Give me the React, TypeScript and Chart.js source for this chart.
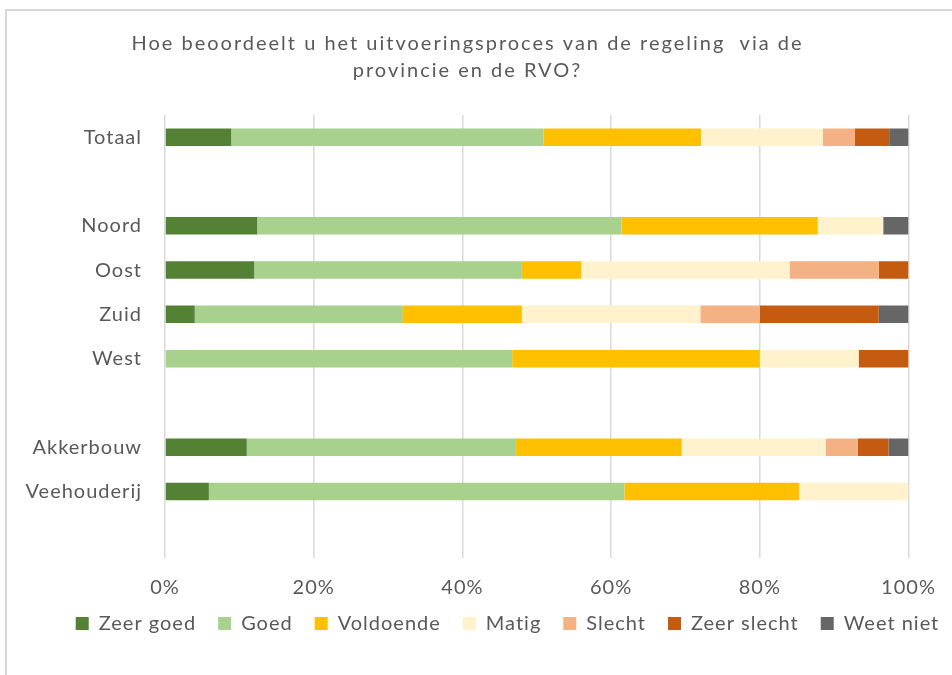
import React, { useEffect, useRef } from 'react';
import { Chart, registerables } from 'chart.js';

Chart.register(...registerables);

const categories = ['Totaal', '', 'Noord', 'Oost', 'Zuid', 'West', '', 'Akkerbouw', 'Veehouderij', ''];
const seriesNames = ['Zeer goed', 'Goed', 'Voldoende', 'Matig', 'Slecht', 'Zeer slecht', 'Weet niet'];

const zeerGoed = [8.9, null, 12.4, 12, 4, 0, null, 11.0, 5.9, null];
const goed = [42.0, null, 49.0, 36, 28, 46.7, null, 36.2, 55.9, null];
const voldoende = [21.2, null, 26.4, 8, 16, 33.3, null, 22.3, 23.5, null];
const matig = [16.4, null, 8.8, 28, 24, 13.3, null, 19.4, 14.7, null];
const slecht = [4.3, null, 0, 12, 8, 0, null, 4.3, 0, null];
const zeerSlecht = [4.6, null, 0, 4, 16, 6.7, null, 4.1, 0, null];
const weetNiet = [2.6, null, 3.4, 0, 4, 0, null, 2.7, 0, null];

const seriesColors = ['#548235', '#A9D18E', '#FFC000', '#FFF2CC', '#F4B183', '#C55A11', '#666666'];
const xTickValues = [0, 20, 40, 60, 80, 100];
const xTickLabels = ['0%', '20%', '40%', '60%', '80%', '100%'];
const titleLines = ['Hoe beoordeelt u het uitvoeringsproces van de regeling  via de', 'provincie en de RVO?'];

const TEXT = '#595959';
const FONT = 'Lato, "Open Sans", sans-serif';

export default function App() {
  const canvasRef = useRef<HTMLCanvasElement>(null);

  useEffect(() => {
    const canvas = canvasRef.current;
    if (!canvas) return;
    const seriesValues = [zeerGoed, goed, voldoende, matig, slecht, zeerSlecht, weetNiet];

    const tracking = {
      id: 'tracking',
      beforeLayout(chart: any) { chart.ctx.letterSpacing = '1px'; },
      beforeDraw(chart: any) { chart.ctx.letterSpacing = '1px'; },
    };
    const adjustBoxes = {
      id: 'adjustBoxes',
      afterLayout(chart: any) {
        const xs = chart.scales.x;
        if (xs) xs.bottom = xs.top + 70;
        const l = chart.legend;
        if (l) {
          l.left += 40;
          l.right += 40;
          const dy = chart.chartArea.bottom + 33.5 - l.top;
          l.top += dy;
          l.bottom += dy;
        }
        const t = chart.titleBlock;
        if (t && !t.__wrapped) {
          const orig = t.draw.bind(t);
          t.draw = function () {
            const ctx = chart.ctx;
            ctx.save();
            ctx.letterSpacing = '2px';
            orig();
            ctx.restore();
          };
          t.__wrapped = true;
        }
      },
    };

    const chart = new Chart(canvas, {
      type: 'bar',
      data: {
        labels: categories,
        datasets: seriesNames.map((name, i) => ({
          label: name,
          data: seriesValues[i] as any,
          backgroundColor: seriesColors[i],
          borderWidth: 0,
          categoryPercentage: 1,
          barPercentage: 0.395,
        })),
      },
      options: {
        indexAxis: 'y',
        animation: false,
        responsive: true,
        maintainAspectRatio: false,
        layout: { padding: { left: 0, right: 17, top: 0, bottom: 20 } },
        scales: {
          x: {
            stacked: true,
            min: 0,
            max: 100,
            afterBuildTicks(scale: any) {
              scale.ticks = xTickValues.map((v) => ({ value: v }));
            },
            afterFit(scale: any) {
              scale.height = 45;
              scale.paddingLeft = 0;
              scale.paddingRight = 43.5;
            },
            ticks: {
              color: TEXT,
              font: { family: FONT, size: 20 },
              padding: 18,
              callback: (v: any) => xTickLabels[xTickValues.indexOf(Number(v))] ?? '',
            },
            grid: { color: '#d9d9d9', lineWidth: 1.5, drawTicks: false },
            border: { display: false },
          },
          y: {
            stacked: true,
            afterFit(scale: any) { scale.width = 165; },
            ticks: {
              color: TEXT,
              font: { family: FONT, size: 20 },
              padding: 23,
              autoSkip: false,
            },
            grid: { display: false, drawTicks: false },
            border: { display: false },
          },
        },
        plugins: {
          title: {
            display: true,
            text: titleLines,
            color: TEXT,
            font: { family: FONT, size: 20, weight: 'normal', lineHeight: 1.35 },
            padding: { top: 30.5, bottom: 30.5 },
          },
          legend: {
            position: 'bottom',
            labels: {
              color: TEXT,
              font: { family: FONT, size: 20 },
              boxWidth: 13,
              boxHeight: 13,
              padding: 22,
            },
          },
          tooltip: { enabled: false },
        },
      },
      plugins: [tracking, adjustBoxes],
    });

    return () => chart.destroy();
  }, []);

  return (
    <div style={{ position: 'absolute', left: 0, top: 0, width: 952, height: 675, overflow: 'hidden', background: '#fff' }}>
      <div
        style={{
          position: 'absolute', left: 5, top: 9, width: 947, height: 666,
          borderTop: '2px solid #d9d9d9', borderLeft: '2px solid #d9d9d9', boxSizing: 'border-box',
        }}
      />
      <div style={{ position: 'absolute', left: 0, top: 0, width: 952, height: 675 }}>
        <canvas ref={canvasRef} />
      </div>
    </div>
  );
}
